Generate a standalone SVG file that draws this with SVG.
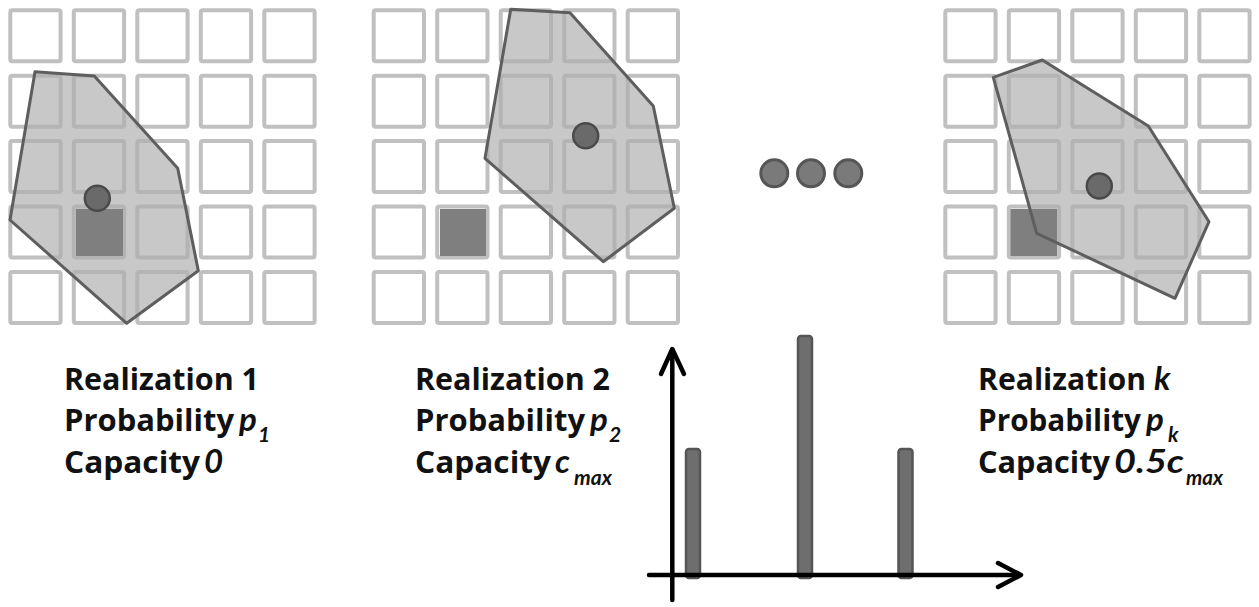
<svg xmlns="http://www.w3.org/2000/svg" xmlns:xlink="http://www.w3.org/1999/xlink" width="1259" height="607" viewBox="0 0 1259 607">
<style>
.cell{fill:#fff;stroke:#c0c0c0;stroke-width:4}
.poly{fill:#aeaeae;fill-opacity:0.68;stroke:none}
.pline{fill:none;stroke:#5e5e5e;stroke-width:3;stroke-linejoin:round}
.sq{fill:#7f7f7f}
.dot{fill:#6a6a6a;stroke:#4a4a4a;stroke-width:2.5}
.edot{fill:#7a7a7a;stroke:#565656;stroke-width:3}
.bar{fill:#6e6e6e;stroke:#555;stroke-width:2.5}
.axis{fill:none;stroke:#000;stroke-width:4.5;stroke-linecap:round;stroke-linejoin:round}
.t{font-family:"Open Sans","Liberation Sans",Arial,sans-serif;font-weight:bold;font-size:31px;fill:#111}
.i{font-family:Lato,"Open Sans","Liberation Sans",Arial,sans-serif;font-style:italic;font-size:33px}
.s{font-size:21px}
</style>
<defs>
<g id="grid">
<rect class="cell" x="0" y="0" width="50.3" height="51" rx="2"/><rect class="cell" x="63.5" y="0" width="50.3" height="51" rx="2"/><rect class="cell" x="127" y="0" width="50.3" height="51" rx="2"/><rect class="cell" x="190.5" y="0" width="50.3" height="51" rx="2"/><rect class="cell" x="254" y="0" width="50.3" height="51" rx="2"/>
<rect class="cell" x="0" y="65.4" width="50.3" height="51" rx="2"/><rect class="cell" x="63.5" y="65.4" width="50.3" height="51" rx="2"/><rect class="cell" x="127" y="65.4" width="50.3" height="51" rx="2"/><rect class="cell" x="190.5" y="65.4" width="50.3" height="51" rx="2"/><rect class="cell" x="254" y="65.4" width="50.3" height="51" rx="2"/>
<rect class="cell" x="0" y="130.8" width="50.3" height="51" rx="2"/><rect class="cell" x="63.5" y="130.8" width="50.3" height="51" rx="2"/><rect class="cell" x="127" y="130.8" width="50.3" height="51" rx="2"/><rect class="cell" x="190.5" y="130.8" width="50.3" height="51" rx="2"/><rect class="cell" x="254" y="130.8" width="50.3" height="51" rx="2"/>
<rect class="cell" x="0" y="196.2" width="50.3" height="51" rx="2"/><rect class="cell" x="63.5" y="196.2" width="50.3" height="51" rx="2"/><rect class="cell" x="127" y="196.2" width="50.3" height="51" rx="2"/><rect class="cell" x="190.5" y="196.2" width="50.3" height="51" rx="2"/><rect class="cell" x="254" y="196.2" width="50.3" height="51" rx="2"/>
<rect class="cell" x="0" y="261.6" width="50.3" height="51" rx="2"/><rect class="cell" x="63.5" y="261.6" width="50.3" height="51" rx="2"/><rect class="cell" x="127" y="261.6" width="50.3" height="51" rx="2"/><rect class="cell" x="190.5" y="261.6" width="50.3" height="51" rx="2"/><rect class="cell" x="254" y="261.6" width="50.3" height="51" rx="2"/>
</g>
</defs>
<rect width="1259" height="607" fill="#fff"/>

<g id="realization1">
<use xlink:href="#grid" transform="translate(10.3,10.3)"/>
<polygon class="poly" points="35,71.7 94.3,76 177.7,168.3 198.3,270.7 126.7,323.3 10,220"/>
<rect class="sq" x="76" y="209" width="47" height="47"/>
<polygon class="pline" points="35,71.7 94.3,76 177.7,168.3 198.3,270.7 126.7,323.3 10,220"/>
<circle class="dot" cx="97.3" cy="198.3" r="12.5"/>
<text class="t" x="64" y="390" textLength="195" lengthAdjust="spacingAndGlyphs">Realization 1</text>
<text class="t" x="64" y="431" textLength="170" lengthAdjust="spacingAndGlyphs">Probability</text>
<text class="t i" x="239" y="431">p</text>
<text class="t i s" x="258" y="442">1</text>
<text class="t" x="64" y="473" textLength="136" lengthAdjust="spacingAndGlyphs">Capacity</text>
<text class="t i" x="204" y="473">0</text>
</g>

<g id="realization2">
<use xlink:href="#grid" transform="translate(373.7,10.3)"/>
<polygon class="poly" points="510.7,9.3 570,12.7 653.3,106 674.3,208.3 603.3,261.7 485,158.3"/>
<rect class="sq" x="440" y="209" width="46" height="47"/>
<polygon class="pline" points="510.7,9.3 570,12.7 653.3,106 674.3,208.3 603.3,261.7 485,158.3"/>
<circle class="dot" cx="585.7" cy="135.7" r="12.5"/>
<text class="t" x="415" y="390" textLength="195" lengthAdjust="spacingAndGlyphs">Realization 2</text>
<text class="t" x="415" y="431" textLength="170" lengthAdjust="spacingAndGlyphs">Probability</text>
<text class="t i" x="590" y="431">p</text>
<text class="t i s" x="609" y="442">2</text>
<text class="t" x="415" y="473" textLength="136" lengthAdjust="spacingAndGlyphs">Capacity</text>
<text class="t i" x="555" y="473">c</text>
<text class="t i s" x="574" y="485" textLength="38" lengthAdjust="spacingAndGlyphs">max</text>
</g>

<g id="ellipsis">
<circle class="edot" cx="774.3" cy="173.3" r="13.5"/>
<circle class="edot" cx="811" cy="173.3" r="13.5"/>
<circle class="edot" cx="848.3" cy="173.3" r="13.5"/>
</g>

<g id="realizationk">
<use xlink:href="#grid" transform="translate(945.3,10.3)"/>
<polygon class="poly" points="993.3,77.3 1042.3,60 1148.3,126 1209,221.7 1175,298.3 1036.7,233.3"/>
<rect class="sq" x="1010.5" y="209" width="46.5" height="47"/>
<polygon class="pline" points="993.3,77.3 1042.3,60 1148.3,126 1209,221.7 1175,298.3 1036.7,233.3"/>
<circle class="dot" cx="1099.3" cy="186" r="12.5"/>
<text class="t" x="978" y="390" textLength="168" lengthAdjust="spacingAndGlyphs">Realization</text>
<text class="t i" x="1154" y="390">k</text>
<text class="t" x="978" y="431" textLength="163" lengthAdjust="spacingAndGlyphs">Probability</text>
<text class="t i" x="1146" y="431">p</text>
<text class="t i s" x="1168" y="442">k</text>
<text class="t" x="978" y="473" textLength="132" lengthAdjust="spacingAndGlyphs">Capacity</text>
<text class="t i" x="1114" y="473" textLength="70" lengthAdjust="spacingAndGlyphs">0.5c</text>
<text class="t i s" x="1186" y="485" textLength="37" lengthAdjust="spacingAndGlyphs">max</text>
</g>

<g id="chart">
<rect class="bar" x="686" y="449" width="14" height="129" rx="3"/>
<rect class="bar" x="798" y="336" width="14" height="242" rx="3"/>
<rect class="bar" x="898.5" y="449" width="14" height="129" rx="3"/>
<g id="connectors">
<line class="axis" x1="672.3" y1="600" x2="672.3" y2="350"/>
<polyline class="axis" points="661,374 672.3,349 684,374"/>
<line class="axis" x1="649" y1="575" x2="1020" y2="575"/>
<polyline class="axis" points="998,563 1021,575 998,587"/>
</g>
</g>
</svg>
